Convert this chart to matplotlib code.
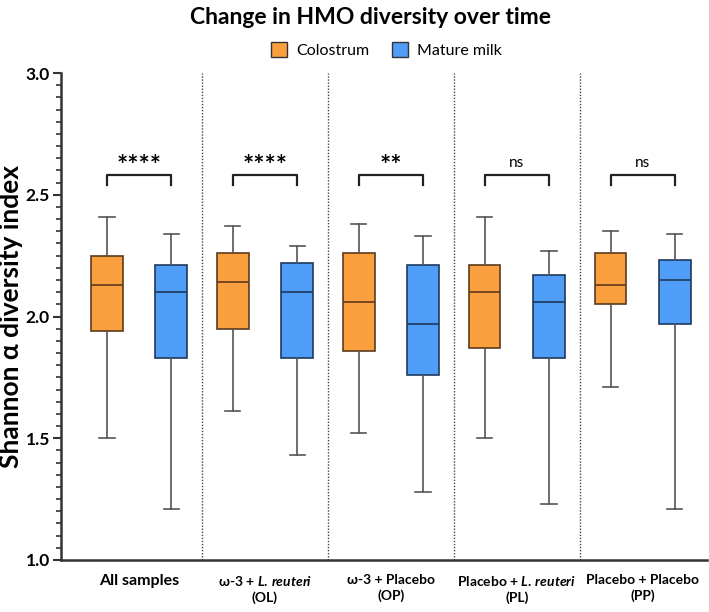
import numpy as np
import matplotlib
matplotlib.use("Agg")
import matplotlib.pyplot as plt
from matplotlib.patches import Patch

plt.rcParams['font.family'] = ['Lato', 'DejaVu Sans']
plt.rcParams['mathtext.fontset'] = 'custom'
plt.rcParams['mathtext.it'] = 'Lato:italic:bold'
plt.rcParams['mathtext.rm'] = 'Lato:bold'

##### Datos (resumen de cinco numeros por caja)
grupos = ['All samples',
          'ω-3 + $\\it{L.\\,reuteri}$\n(OL)',
          'ω-3 + Placebo\n(OP)',
          'Placebo + $\\it{L.\\,reuteri}$\n(PL)',
          'Placebo + Placebo\n(PP)']
significancia = ['****', '****', '**', 'ns', 'ns']

# Colostrum
calostro_min = [1.50, 1.61, 1.52, 1.50, 1.71]
calostro_q1 = [1.94, 1.95, 1.86, 1.87, 2.05]
calostro_med = [2.13, 2.14, 2.06, 2.10, 2.13]
calostro_q3 = [2.25, 2.26, 2.26, 2.21, 2.26]
calostro_max = [2.41, 2.37, 2.38, 2.41, 2.35]

# Mature milk
madura_min = [1.21, 1.43, 1.28, 1.23, 1.21]
madura_q1 = [1.83, 1.83, 1.76, 1.83, 1.97]
madura_med = [2.10, 2.10, 1.97, 2.06, 2.15]
madura_q3 = [2.21, 2.22, 2.21, 2.17, 2.23]
madura_max = [2.34, 2.29, 2.33, 2.27, 2.34]

color_cal = '#FA9F3E'
color_mad = '#4F9DF7'
borde_cal = '#5C3B1C'
borde_mad = '#1E3A5F'


def stats(mn, q1, med, q3, mx):
    return [dict(whislo=a, q1=b, med=c, q3=d, whishi=e, fliers=[])
            for a, b, c, d, e in zip(mn, q1, med, q3, mx)]


fig = plt.figure(figsize=(7.09, 6.12), dpi=100)
ax = fig.add_axes([61/709, 1-560/612, (707-61)/709, (560-73)/612])

x = np.arange(len(grupos))
desp = 0.255
ancho = 0.25

cajas = [(stats(calostro_min, calostro_q1, calostro_med, calostro_q3, calostro_max), x - desp, color_cal, borde_cal),
         (stats(madura_min, madura_q1, madura_med, madura_q3, madura_max), x + desp, color_mad, borde_mad)]
for st, pos, col, borde in cajas:
    ax.bxp(st, positions=pos, widths=ancho, capwidths=0.12, patch_artist=True, showfliers=False,
           boxprops=dict(facecolor=col, edgecolor=borde, linewidth=1.2),
           medianprops=dict(color=borde, linewidth=1.2),
           whiskerprops=dict(color='#555555', linewidth=1.2),
           capprops=dict(color='#555555', linewidth=1.2))

# divisiones entre grupos
for d in x[:-1] + 0.5:
    ax.axvline(d, color='#444444', linestyle=(0, (1, 1.2)), linewidth=1.0, zorder=0)

# corchetes de significancia
for i, s in enumerate(significancia):
    ax.plot([i - desp, i - desp, i + desp, i + desp], [2.54, 2.58, 2.58, 2.54], color='#222222', linewidth=1.6)
    if s == 'ns':
        ax.text(i, 2.615, s, ha='center', va='baseline', fontsize=11)
    else:
        ax.text(i, 2.585, s, ha='center', va='baseline', fontsize=19, fontweight='bold')

ax.set_xlim(-0.62, 4.51)
ax.set_ylim(1.0, 3.0)
ax.set_yticks(np.arange(1.0, 3.01, 0.5))
ax.set_yticks(np.arange(1.0, 3.001, 0.05), minor=True)
ax.set_yticklabels([f'{v:.1f}' for v in np.arange(1.0, 3.01, 0.5)], fontsize=12.5, fontweight='bold')
ax.tick_params(axis='y', which='major', length=6, width=1.5, color='#333333', pad=2)
ax.tick_params(axis='y', which='minor', length=3.5, width=1.2, color='#333333')
ax.set_xticks(x)
ax.set_xticklabels(grupos, fontsize=10, fontweight='bold', linespacing=1.35)
ax.get_xticklabels()[0].set_fontsize(11.5)
ax.tick_params(axis='x', length=0, pad=10)

for lado in ['top', 'right']:
    ax.spines[lado].set_visible(False)
for lado in ['left', 'bottom']:
    ax.spines[lado].set_linewidth(1.8)
    ax.spines[lado].set_color('#333333')

ax.set_ylabel('Shannon α diversity index', fontsize=19, fontweight='bold', labelpad=2)

fig.text(0.522, 0.971, 'Change in HMO diversity over time', ha='center', va='center', fontsize=16.5, fontweight='bold')

manejadores = [Patch(facecolor=color_cal, edgecolor='#333333', label='Colostrum'),
               Patch(facecolor=color_mad, edgecolor='#333333', label='Mature milk')]
fig.legend(handles=manejadores, loc='center', bbox_to_anchor=(0.545, 0.918), ncol=2, frameon=False,
           fontsize=11.5, handlelength=1.0, handleheight=1.0, columnspacing=1.4, handletextpad=0.6)

fig.savefig('out.png', dpi=100)
